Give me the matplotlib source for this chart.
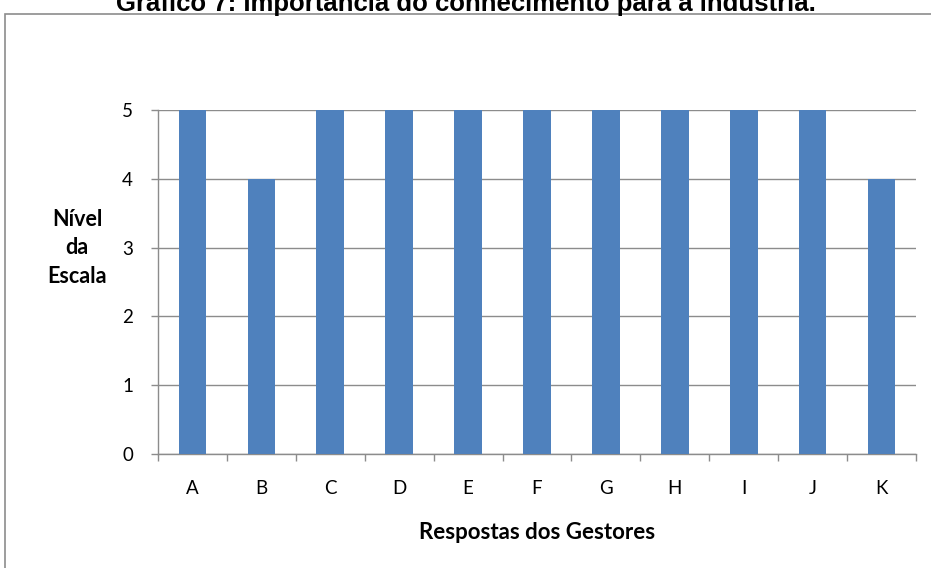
import matplotlib.pyplot as plt
from matplotlib.patches import Rectangle
import numpy as np

# respostas dos gestores (escala 0-5)
gestores = ['A', 'B', 'C', 'D', 'E', 'F', 'G', 'H', 'I', 'J', 'K']
nivel = [5, 4, 5, 5, 5, 5, 5, 5, 5, 5, 4]

W, H = 931, 568
fig = plt.figure(figsize=(W / 100, H / 100), dpi=100)
fig.patch.set_facecolor('white')

# frame around the chart (cut at right/bottom like the original)
fig.patches.append(Rectangle((5 / W, -0.01), 1.0, 1 - 14 / H + 0.01,
                             transform=fig.transFigure, fill=False,
                             edgecolor='#8c8c8c', linewidth=1.2))

fig.text(0.5, 1 - 11 / H, 'Gráfico 7: Importância do conhecimento para a indústria.',
         ha='center', va='baseline', fontsize=18.5, fontweight='bold',
         family='Liberation Sans')

ax = fig.add_axes([158 / W, 1 - 454 / H, (916 - 158) / W, (454 - 110) / H])
x = np.arange(len(gestores))
ax.bar(x, nivel, width=0.4, color='#4F81BD', zorder=3)

ax.set_xlim(-0.5, len(gestores) - 0.5)
ax.set_ylim(0, 5)
ax.set_yticks(range(6))
ax.grid(axis='y', color='#8c8c8c', linewidth=1, zorder=0)

ax.set_xticks(x)
ax.set_xticklabels(gestores)
ax.set_xticks(np.arange(-0.5, len(gestores)), minor=True)
ax.tick_params(axis='x', which='major', length=0, pad=19, labelsize=13.5)
ax.tick_params(axis='x', which='minor', length=5, color='#8c8c8c', width=1)
ax.tick_params(axis='y', length=5, color='#8c8c8c', width=1, pad=13, labelsize=13.5)
for lab in ax.get_xticklabels() + ax.get_yticklabels():
    lab.set_family('Lato')

for s in ['top', 'right']:
    ax.spines[s].set_visible(False)
for s in ['left', 'bottom']:
    ax.spines[s].set_color('#8c8c8c')
    ax.spines[s].set_linewidth(1)

ax.set_xlabel('Respostas dos Gestores', fontsize=16, fontweight='bold',
              family='Lato', labelpad=18)
fig.text(77 / W, 1 - 248 / H, 'Nível\nda\nEscala', ha='center', va='center',
         fontsize=15.5, fontweight='bold', family='Lato', linespacing=1.45)

fig.savefig('out.png', dpi=100)
